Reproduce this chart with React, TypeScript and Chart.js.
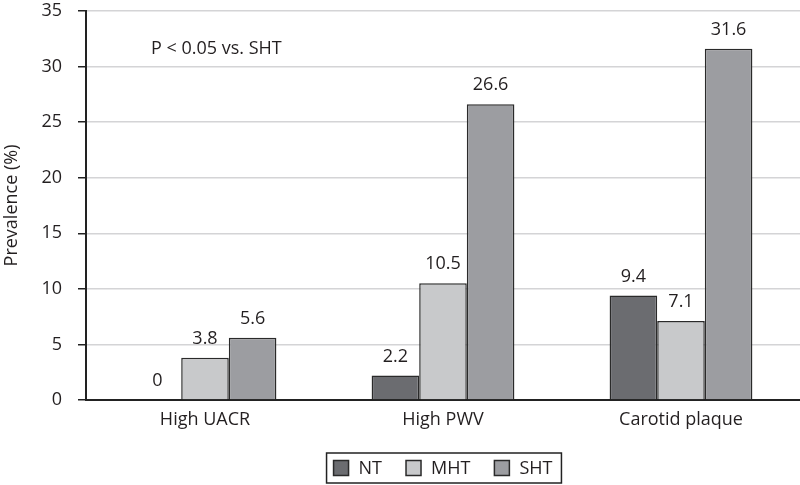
import React, { useEffect, useRef } from "react";
import { Chart, registerables } from "chart.js";

Chart.register(...registerables);

const categories = ["High UACR", "High PWV", "Carotid plaque"];
const seriesNames = ["NT", "MHT", "SHT"];
const ntValues = [0, 2.2, 9.4];
const mhtValues = [3.8, 10.5, 7.1];
const shtValues = [5.6, 26.6, 31.6];
const yTicks = [0, 5, 10, 15, 20, 25, 30, 35];
const annotationText = "P < 0.05 vs. SHT";
const yTitle = "Prevalence (%)";

const FONT = "'Open Sans', 'Noto Sans', sans-serif";
const FS = 18;
const TEXT = "#231f20";
const COLORS = ["#6b6c70", "#c8c9cb", "#9c9da1"];
const EDGE = "#2a2a2a";

const customDraw = {
  id: "customDraw",
  afterDatasetsDraw(chart: any) {
    const ctx = chart.ctx;
    ctx.save();
    ctx.font = `${FS}px ${FONT}`;
    ctx.fillStyle = TEXT;
    ctx.textAlign = "center";
    ctx.textBaseline = "bottom";
    chart.data.datasets.forEach((ds: any, i: number) => {
      const meta = chart.getDatasetMeta(i);
      meta.data.forEach((bar: any, j: number) => {
        ctx.fillText(String(ds.data[j]), bar.x, bar.y - 10);
      });
    });
    const x = chart.scales.x;
    const y = chart.scales.y;
    ctx.textAlign = "left";
    ctx.textBaseline = "middle";
    ctx.fillText(annotationText, x.left + 65, y.getPixelForValue(31.6));
    ctx.restore();
  },
  afterDraw(chart: any) {
    const ctx = chart.ctx;
    const area = chart.chartArea;
    ctx.save();
    ctx.font = `${FS}px ${FONT}`;
    const box = 15;
    const gapBoxText = 10;
    const gapItems = 24;
    const widths = chart.data.datasets.map((ds: any) => box + gapBoxText + ctx.measureText(ds.label).width);
    const total = widths.reduce((a: number, b: number) => a + b, 0) + gapItems * (widths.length - 1);
    const cx = (area.left + area.right) / 2;
    let xPos = cx - total / 2;
    const cy = 468;
    ctx.strokeStyle = "#222";
    ctx.lineWidth = 1.5;
    ctx.strokeRect(xPos - 7, 453, total + 16, 30);
    ctx.textBaseline = "middle";
    ctx.textAlign = "left";
    chart.data.datasets.forEach((ds: any, i: number) => {
      ctx.fillStyle = ds.backgroundColor;
      ctx.fillRect(xPos, cy - box / 2, box, box);
      ctx.strokeStyle = EDGE;
      ctx.lineWidth = 1.5;
      ctx.strokeRect(xPos, cy - box / 2, box, box);
      ctx.fillStyle = TEXT;
      ctx.fillText(ds.label, xPos + box + gapBoxText, cy + 1);
      xPos += widths[i] + gapItems;
    });
    ctx.restore();
  },
};

export default function App() {
  const ref = useRef<HTMLCanvasElement>(null);
  useEffect(() => {
    const data = [ntValues, mhtValues, shtValues];
    const chart = new Chart(ref.current!, {
      type: "bar",
      data: {
        labels: categories,
        datasets: seriesNames.map((n, i) => ({
          label: n,
          data: data[i],
          backgroundColor: COLORS[i],
          borderColor: EDGE,
          borderWidth: 1.5,
          categoryPercentage: 0.6,
          barPercentage: 1,
        })),
      },
      options: {
        animation: false,
        responsive: false,
        maintainAspectRatio: false,
        layout: { padding: { top: 11, right: 0, left: 0, bottom: 0 } },
        plugins: {
          tooltip: { enabled: false },
          legend: { display: false },
        },
        scales: {
          x: {
            afterFit: (s: any) => { s.height = 85; s.paddingLeft = 0; s.paddingRight = 0; },
            grid: { display: false, drawTicks: false },
            border: { color: "#222", width: 2 },
            ticks: { font: { family: FONT, size: FS }, color: TEXT, padding: 9 },
          },
          y: {
            min: 0,
            max: 35,
            afterFit: (s: any) => { s.width = 86; s.paddingTop = 0; s.paddingBottom = 0; },
            afterBuildTicks: (s: any) => { s.ticks = yTicks.map((v) => ({ value: v })); },
            grid: { color: "#d4d4d6", lineWidth: 1.5, tickColor: "#222", tickLength: 8 },
            border: { color: "#222", width: 2 },
            ticks: { font: { family: FONT, size: FS }, color: TEXT, padding: 16 },
            title: { display: true, text: yTitle, font: { family: FONT, size: FS }, color: TEXT, padding: 1 },
          },
        },
      },
      plugins: [customDraw],
    });
    return () => chart.destroy();
  }, []);
  return (
    <div style={{ position: "fixed", left: 0, top: 0, width: 800, height: 485, background: "#fff" }}>
      <canvas ref={ref} width={800} height={485} />
    </div>
  );
}
